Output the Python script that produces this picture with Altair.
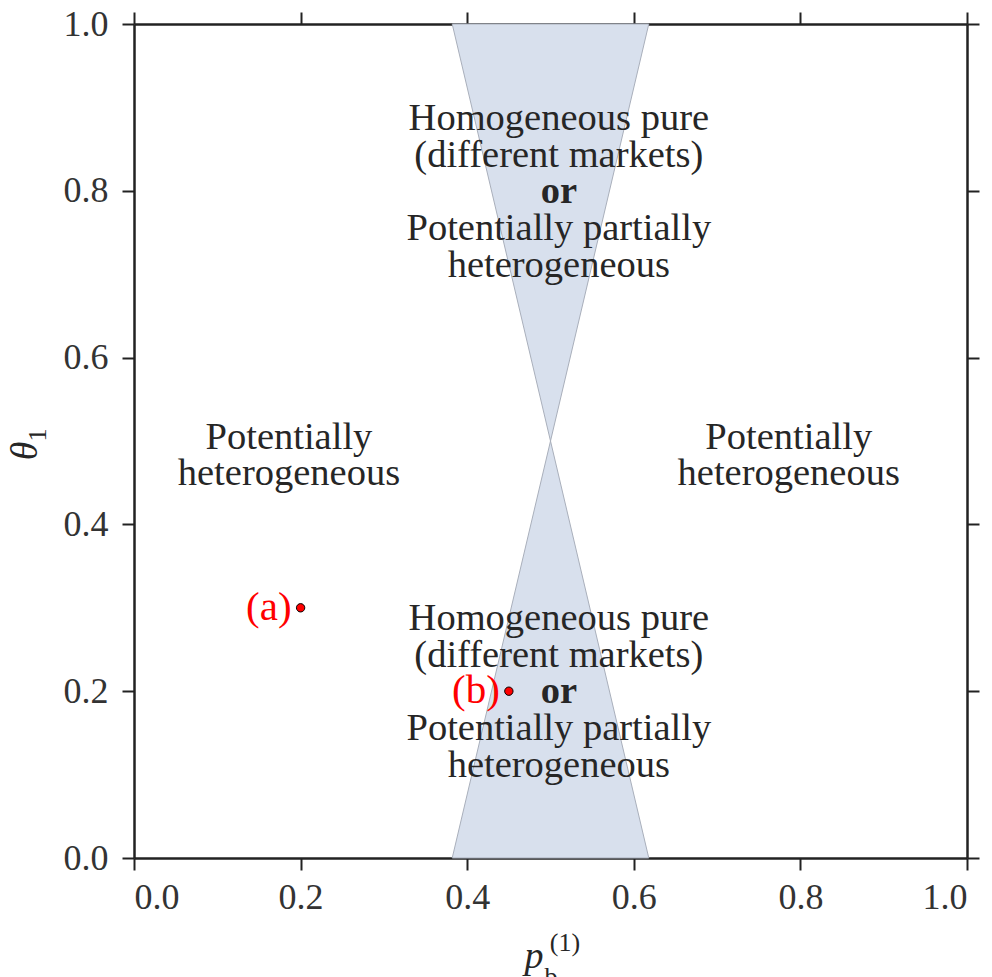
import altair as alt
import pandas as pd

# ---- data ----
theta_vals = [0.0, 0.5, 1.0]
lower_edge = [0.382, 0.5, 0.382]
upper_edge = [0.618, 0.5, 0.618]

point_names = ["(a)", "(b)"]
point_x = [0.2, 0.45]
point_y = [0.3, 0.2]

side_label_x = [0.186, 0.786]
side_label_y = [0.483, 0.483]

mid_label_x = [0.51, 0.51]
mid_label_y = [0.80, 0.20]

tick_values = [0.0, 0.2, 0.4, 0.6, 0.8, 1.0]

W, H = 833, 834
FONT = "Liberation Serif"
TXT = "#262626"
FS = 38.5

region = pd.DataFrame({"theta": theta_vals, "lo": lower_edge, "hi": upper_edge})
pts = pd.DataFrame({"name": point_names, "x": point_x, "y": point_y})
side = pd.DataFrame({"x": side_label_x, "y": side_label_y})
mid = pd.DataFrame({"x": mid_label_x, "y": mid_label_y})

xs = alt.Scale(domain=[0, 1], nice=False, zero=False)
ys = alt.Scale(domain=[0, 1], nice=False, zero=False)

axis_common = dict(
    values=tick_values, format=".1f", grid=False,
    domainColor="#222222", domainWidth=2.5,
    tickColor="#222222", tickWidth=2, tickSize=12,
    labelFont=FONT, labelFontSize=36, labelColor="#333333",
    title=None,
)

area = alt.Chart(region).mark_area(
    orient="horizontal", color="#d8e0ed", opacity=1,
    stroke="#a9afbb", strokeWidth=1
).encode(
    y=alt.Y("theta:Q", scale=ys, axis=alt.Axis(orient="left", labelPadding=14, **axis_common)),
    x=alt.X("lo:Q", scale=xs, axis=alt.Axis(orient="bottom", labelPadding=10, **axis_common)),
    x2="hi:Q",
)

frame = alt.Chart(pts).mark_point(opacity=0).encode(
    x=alt.X("x:Q", scale=xs, axis=alt.Axis(orient="top", labels=False, **axis_common)),
    y=alt.Y("y:Q", scale=ys, axis=alt.Axis(orient="right", labels=False, **axis_common)),
)

def tx(df, **kw):
    return alt.Chart(df).mark_text(font=FONT, color=TXT, **kw).encode(
        x=alt.X("x:Q", scale=xs, axis=None),
        y=alt.Y("y:Q", scale=ys, axis=None),
    )

side_txt = tx(side, fontSize=FS, lineHeight=36, align="center", baseline="middle", dy=-18,
              text=["Potentially", "heterogeneous"])
mid_top = tx(mid, fontSize=FS, lineHeight=37, align="center", baseline="middle", dy=-73,
             text=["Homogeneous pure", "(different markets)"])
mid_or = tx(mid, fontSize=FS, fontWeight="bold", align="center", baseline="middle", text="or")
mid_bot = tx(mid, fontSize=FS, lineHeight=37, align="center", baseline="middle", dy=37,
             text=["Potentially partially", "heterogeneous"])

dots = alt.Chart(pts).mark_circle(size=70, color="red", stroke="black", strokeWidth=1, opacity=1).encode(
    x=alt.X("x:Q", scale=xs, axis=None),
    y=alt.Y("y:Q", scale=ys, axis=None),
)
dot_lbl = alt.Chart(pts).mark_text(font=FONT, fontSize=41, color="red", align="right",
                                   baseline="middle", dx=-9).encode(
    x=alt.X("x:Q", scale=xs, axis=None),
    y=alt.Y("y:Q", scale=ys, axis=None),
    text="name:N",
)

# axis titles (math-like composites)
one = pd.DataFrame({"k": [0]})
def lbl(text, x, y, size, **kw):
    return alt.Chart(one).mark_text(text=text, font=FONT, fontSize=size, color=TXT, **kw).encode(
        x=alt.value(x), y=alt.value(y))

ytitle_theta = lbl("θ", -108, 427, 38, fontStyle="italic", angle=270, align="center", baseline="middle")
ytitle_sub = lbl("1", -96, 411, 26, angle=270, align="center", baseline="middle")
xtitle_p = lbl("p", 400, 944, 38, fontStyle="italic", align="center", baseline="alphabetic")
xtitle_b = lbl("b", 417, 961, 26, align="center", baseline="alphabetic")
xtitle_sup = lbl("(1)", 431, 927, 26, align="center", baseline="alphabetic")

chart = alt.layer(
    area, frame, side_txt, mid_top, mid_or, mid_bot, dots, dot_lbl,
    ytitle_theta, ytitle_sub, xtitle_p, xtitle_b, xtitle_sup,
).resolve_axis(x="independent", y="independent").properties(
    width=W, height=H,
    autosize=alt.AutoSizeParams(type="none"),
    padding={"left": 126, "top": 16, "right": 17, "bottom": 130},
).configure_view(stroke=None).configure(background="white")

chart.save("out.html", embed_options={"renderer": "svg", "actions": False})
